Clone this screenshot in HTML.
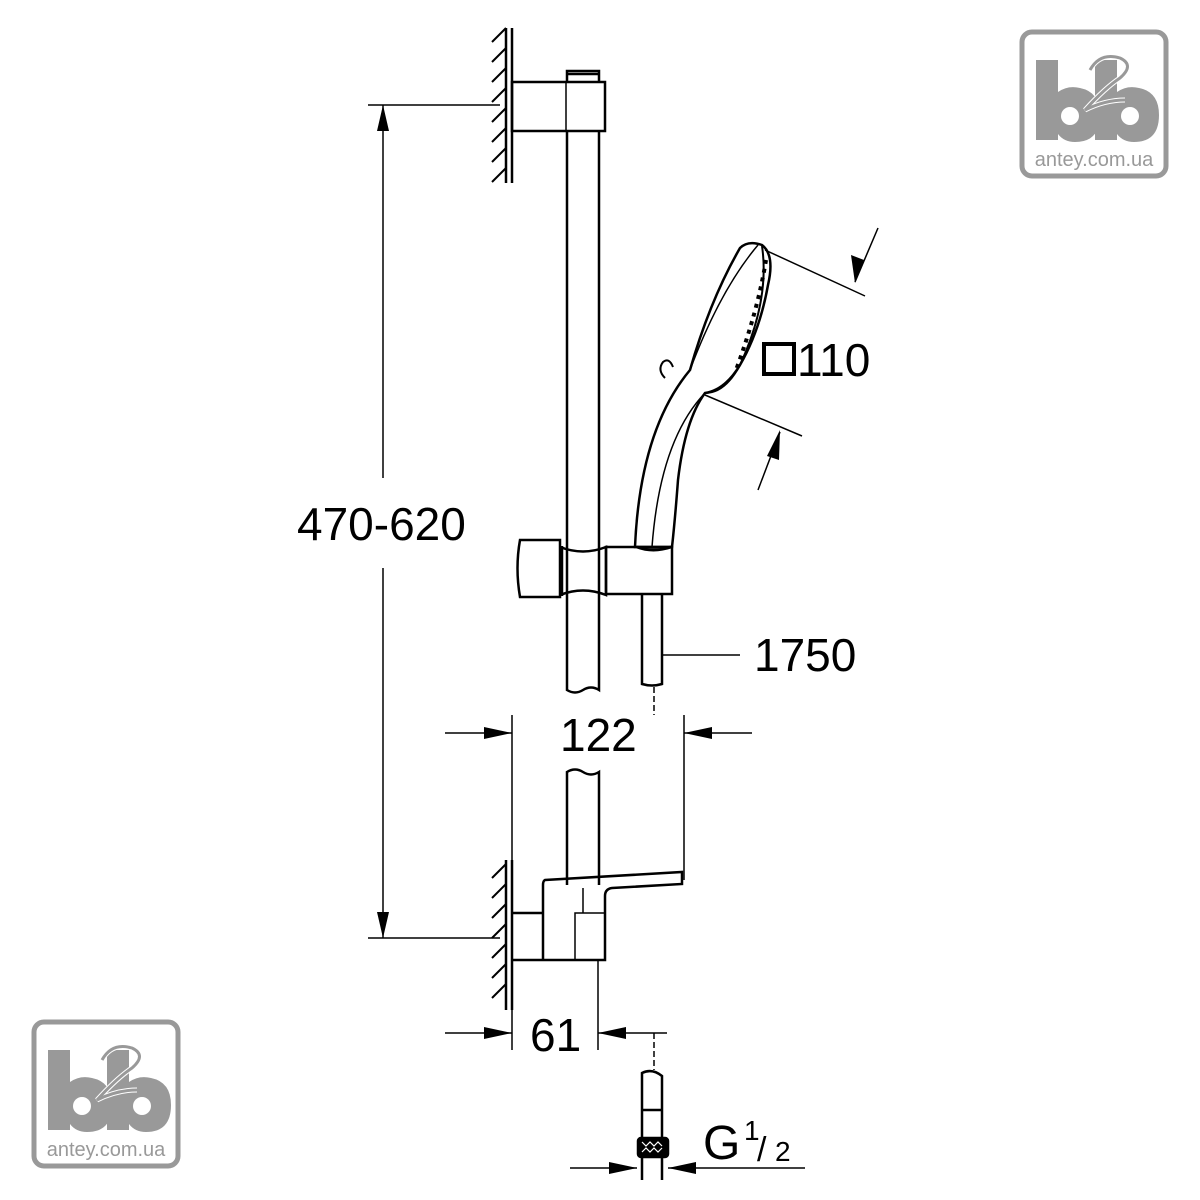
<!DOCTYPE html>
<html><head><style>body{margin:0;background:#fff}svg{display:block}</style></head><body>
<svg width="1200" height="1200" viewBox="0 0 1200 1200" xmlns="http://www.w3.org/2000/svg" font-family="Liberation Sans, sans-serif">
<g fill="none" stroke="#000" stroke-width="2.5">
<line x1="506" y1="28" x2="506" y2="183"/><line x1="512" y1="28" x2="512" y2="183"/>
<g stroke-width="2"><path d="M492,42l14,-14M492,62l14,-14M492,82l14,-14M492,102l14,-14M492,122l14,-14M492,142l14,-14M492,162l14,-14M492,182l14,-14"/></g>
<rect x="512" y="82" width="93" height="49"/>
<line x1="566" y1="82" x2="566" y2="131" stroke-width="1.5"/>
<path d="M567,82V71H599V82M567,74H599" />
<path d="M567,131V690q8,5 16,0q8,-5 16,0V131"/>
<path d="M567,885V772q8,-5 16,0q8,5 16,0V885" />
<line x1="368" y1="105" x2="500" y2="105" stroke-width="1.5"/>
<line x1="368" y1="938" x2="500" y2="938" stroke-width="1.5"/>
<line x1="383" y1="105" x2="383" y2="478" stroke-width="1.5"/>
<line x1="383" y1="568" x2="383" y2="938" stroke-width="1.5"/>
<path d="M520,540H560V597H520Q515,568 520,540Z"/>
<path d="M560,547Q583,556 606,547V595Q583,586 560,595"/>
<line x1="562" y1="546" x2="562" y2="596"/>
<rect x="606" y="547" width="66" height="47"/>
<path d="M642,594V684q10,3 20,0V594" />
<line x1="662" y1="655" x2="740" y2="655" stroke-width="1.5"/>
<line x1="654" y1="687" x2="654" y2="715" stroke-width="1.5" stroke-dasharray="6,3"/>
<path d="M635,547Q640,430 690,370Q710,300 740,248Q748,240 762,245Q775,255 768,285Q760,330 740,365Q725,390 705,393Q685,420 678,480Q675,520 672,547Z"/>
<path d="M652,547Q660,440 705,393" stroke-width="1.5"/>
<path d="M690,370Q720,290 758,245" stroke-width="1.5"/>
<path d="M762,246Q770,300 740,365Q725,393 705,393" stroke-width="2"/>
<path d="M766,260q-8,50 -30,110" stroke-width="4" stroke-dasharray="4,5"/>
<path d="M665,378q-8,-8 -2,-16q6,-5 10,5" stroke-width="2"/>
<path d="M637,547q16,6 34,0" stroke-width="3"/>
<line x1="765" y1="250" x2="865" y2="296" stroke-width="1.5"/>
<line x1="705" y1="395" x2="802" y2="436" stroke-width="1.5"/>
<line x1="878" y1="228" x2="855" y2="282" stroke-width="1.5"/>
<line x1="758" y1="490" x2="780" y2="432" stroke-width="1.5"/>
<rect x="764" y="344" width="30" height="30" stroke-width="4"/>
<line x1="512" y1="715" x2="512" y2="1050" stroke-width="1.5"/>
<line x1="684" y1="715" x2="684" y2="880" stroke-width="1.5"/>
<line x1="445" y1="733" x2="512" y2="733" stroke-width="1.5"/>
<line x1="684" y1="733" x2="752" y2="733" stroke-width="1.5"/>
<line x1="506" y1="860" x2="506" y2="1010"/><line x1="512" y1="860" x2="512" y2="1010"/>
<g stroke-width="2"><path d="M492,878l14,-14M492,898l14,-14M492,918l14,-14M492,938l14,-14M492,958l14,-14M492,978l14,-14M492,998l14,-14"/></g>
<path d="M512,913H543M543,960H605V896Q605,889 612,888L682,884V872L545,880Q543,881 543,885V960M512,960H543"/>
<path d="M575,960V913H605M583,888V913" stroke-width="1.5"/>
<line x1="598" y1="960" x2="598" y2="1050" stroke-width="1.5"/>
<line x1="445" y1="1033" x2="512" y2="1033" stroke-width="1.5"/>
<line x1="598" y1="1033" x2="667" y2="1033" stroke-width="1.5"/>
<line x1="654" y1="1033" x2="654" y2="1070" stroke-width="1.5" stroke-dasharray="6,3"/>
<path d="M642,1180V1073q10,-5 20,3V1180M642,1110H662"/>
<rect x="638" y="1138" width="30" height="19" rx="3" fill="#000"/>
<path d="M642,1142l4,4l4,-4l4,4l4,-4l4,4M642,1152l4,-4l4,4l4,-4l4,4l4,-4" stroke="#fff" stroke-width="1.2"/>
<line x1="570" y1="1168" x2="637" y2="1168" stroke-width="1.5"/>
<line x1="668" y1="1168" x2="805" y2="1168" stroke-width="1.5"/>
</g>
<g fill="#000">
<path d="M383,105l-6,26h12z"/><path d="M383,938l-6,-26h12z"/>
<path d="M512,733l-28,-6v12z"/><path d="M684,733l28,-6v12z"/>
<path d="M512,1033l-28,-6v12z"/><path d="M598,1033l28,-6v12z"/>
<path d="M637,1168l-28,-6v12z"/><path d="M668,1168l28,-6v12z"/>
<path d="M855,283l-4,-28l13,5z"/><path d="M780,430l-13,26l12,4z"/>
</g>
<g font-size="46" fill="#000">
<text x="297" y="540">470-620</text>
<text x="797" y="376">110</text>
<text x="754" y="671">1750</text>
<text x="560" y="751">122</text>
<text x="530" y="1051">61</text>
<text x="703" y="1159" font-size="48">G</text>
<text x="744" y="1140" font-size="28">1</text>
<text x="757" y="1161" font-size="34">/</text>
<text x="775" y="1161" font-size="28">2</text>
</g>
<g id="lg" transform="translate(1020,30)">
<rect x="2" y="2" width="144" height="144" rx="10" fill="#fff" stroke="#999" stroke-width="5"/>
<path d="M16,30H38V62Q48,55 60,58Q80,62 80,85Q80,112 55,112Q44,112 38,104V110H16Z" fill="#999"/>
<path d="M75,30H97V62Q107,55 119,58Q139,62 139,85Q139,112 114,112Q103,112 97,104V110H75Z" fill="#999"/>
<circle cx="50" cy="86" r="9" fill="#fff"/><circle cx="110" cy="86" r="9" fill="#fff"/>
<path d="M70,40Q80,22 100,28Q115,35 100,48Q85,58 65,80Q85,70 105,70" fill="none" stroke="#fff" stroke-width="5"/>
<path d="M70,40Q80,22 100,28Q115,35 100,48Q85,58 65,80Q85,70 105,70" fill="none" stroke="#999" stroke-width="3"/>
<text x="74" y="136" text-anchor="middle" font-size="20" fill="#999">antey.com.ua</text>
</g>
<use href="#lg" transform="translate(-988,990)"/>
</svg>
</body></html>
